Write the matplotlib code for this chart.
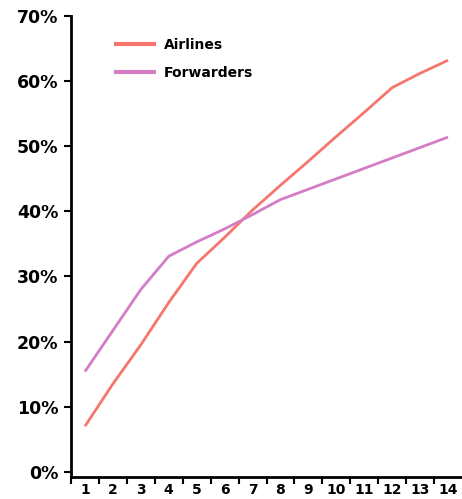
import matplotlib
matplotlib.use("Agg")
import matplotlib.pyplot as plt
from matplotlib.ticker import FixedLocator

x_values = [1, 2, 3, 4, 5, 6, 7, 8, 9, 10, 11, 12, 13, 14]
airlines = [7.0, 13.5, 19.5, 26.0, 32.0, 36.0, 40.2, 44.0, 47.7, 51.5, 55.2, 59.0, 61.2, 63.2]
forwarders = [15.4, 21.7, 28.0, 33.1, 35.3, 37.3, 39.5, 41.8, 43.4, 45.0, 46.6, 48.2, 49.8, 51.4]
y_ticks = [0, 10, 20, 30, 40, 50, 60, 70]
y_labels = ["0%", "10%", "20%", "30%", "40%", "50%", "60%", "70%"]
series_names = ["Airlines", "Forwarders"]

plt.rcParams['font.family'] = ['DejaVu Sans']

fig = plt.figure(figsize=(4.62, 4.99), dpi=100)
ax = fig.add_axes([71/462, 1 - 477/499, 1 - 71/462, (477 - 16)/499])

ax.plot(x_values, airlines, color="#f4766c", lw=2.0, label=series_names[0], solid_capstyle='butt')
ax.plot(x_values, forwarders, color="#d47cc4", lw=2.0, label=series_names[1], solid_capstyle='butt')

ax.set_xlim(0.5, 14.5)
ax.set_ylim(-0.8, 70)

ax.set_yticks(y_ticks)
ax.set_yticklabels(y_labels, fontsize=12.5, fontweight='heavy')
ax.set_xticks(x_values)
ax.set_xticklabels([str(v) for v in x_values], fontsize=10, fontweight='heavy')
ax.xaxis.set_minor_locator(FixedLocator([v + 0.5 for v in x_values[:-1]] + [0.5]))
ax.tick_params(axis='x', which='major', length=0, pad=4)
ax.tick_params(axis='x', which='minor', length=5, width=1.5, direction='out')
ax.tick_params(axis='y', length=5, width=1.5, direction='out', pad=4)

for s in ['top', 'right']:
    ax.spines[s].set_visible(False)
for s in ['left', 'bottom']:
    ax.spines[s].set_linewidth(2)
    ax.spines[s].set_color('black')

leg = ax.legend(loc='upper left', bbox_to_anchor=((114 - 71) / 391, 1 - (38 - 16) / 461),
                frameon=False, handlelength=3.0, handletextpad=0.6, labelspacing=1.0,
                prop={'weight': 'heavy', 'size': 10}, borderaxespad=0, borderpad=0)
for line in leg.get_lines():
    line.set_linewidth(3)

fig.savefig("out.png", dpi=100)
